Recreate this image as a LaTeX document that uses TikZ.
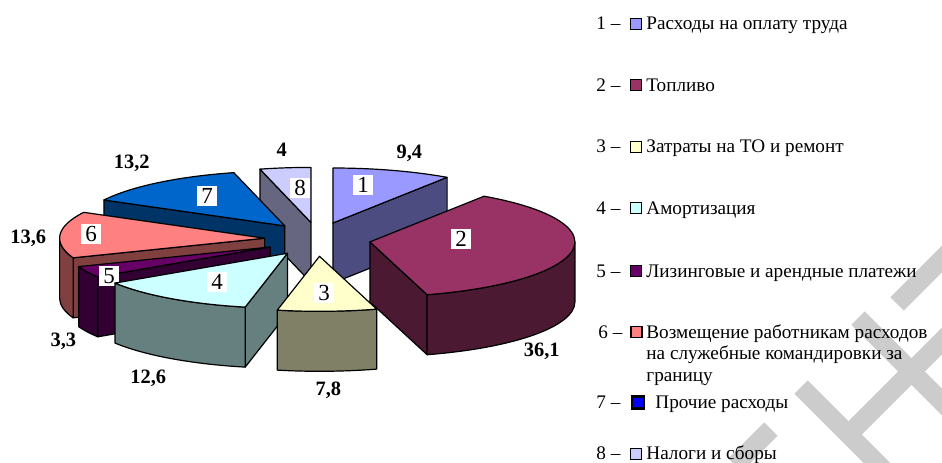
\documentclass[tikz,border=0pt]{standalone}
\usepackage{fontspec}
\setmainfont{Liberation Serif}

\newlength{\du}
\setlength{\du}{0.5pt}

% slice colours: top face and side
\definecolor{top1}{HTML}{9999FF}\definecolor{side1}{HTML}{4C4C80}
\definecolor{top2}{HTML}{993366}\definecolor{side2}{HTML}{4C1933}
\definecolor{top3}{HTML}{FFFFCC}\definecolor{side3}{HTML}{808066}
\definecolor{top4}{HTML}{CCFFFF}\definecolor{side4}{HTML}{668080}
\definecolor{top5}{HTML}{660066}\definecolor{side5}{HTML}{330033}
\definecolor{top6}{HTML}{FF8080}\definecolor{side6}{HTML}{804040}
\definecolor{top7}{HTML}{0066CC}\definecolor{side7}{HTML}{003366}
\definecolor{top8}{HTML}{CCCCFF}\definecolor{side8}{HTML}{666680}
\definecolor{key7}{HTML}{0000FF}
\definecolor{wmgray}{HTML}{CCCCCC}

\tikzset{
  pierad/.style={x radius=205\du, y radius=55\du},
  face/.style={fill=#1, draw=black, line width=1.2\du, line join=round},
  slicenum/.style={fill=white, inner xsep=1.9pt, inner ysep=1.2pt, font=\fontsize{11.5}{12}\selectfont},
  pct/.style={inner sep=0pt, font=\fontsize{10.2}{12}\selectfont\bfseries},
  legnum/.style={anchor=base west, inner sep=0pt, font=\fontsize{9.6}{11}\selectfont},
  legtext/.style={legnum},
  legkey/.style={draw=black, line width=1.2\du, minimum size=11\du, inner sep=0pt, fill=#1},
  wmark/.style={draw=wmgray, line width=19\du}
}

\begin{document}
\begin{tikzpicture}[x=\du, y=\du]
\pgftransformyscale{-1.000000}
\useasboundingbox (0,0) rectangle (942,462);

% watermark
\begin{scope}
\clip (0,0) rectangle (942,462);
\draw[wmark] (897,304) -- (975,226);
\draw[wmark] (852,431) -- (975,308);
\draw[wmark] (801,387) -- (890,476);
\draw[wmark] (858,318) -- (980,440);
\draw[wmark] (771,429) -- (735,465);
\end{scope}

% 8 - taxes
\path[face=side8] (310.9,222.4) -- (259.9,169.1) -- (259.9,229.1) -- (310.9,282.4) -- cycle;
\path[face=top8] (310.9,222.4) -- ++(255.6:{205\du} and {55\du}) arc[pierad, start angle=255.6, end angle=270] -- cycle;
\node[slicenum] (s8) at (300,188) {8};

% 7 - other
\path[face=side7] (284.8,225.9) -- (103.9,200.0) -- (103.9,260.0) -- (284.8,285.9) -- cycle;
\path[face=top7] (284.8,225.9) -- ++(208.08:{205\du} and {55\du}) arc[pierad, start angle=208.08, end angle=255.6] -- cycle;
\node[slicenum] (s7) at (207,196) {7};

% 1 - wages
\path[face=side1] (332.9,223.0) -- (447.1,177.3) -- (447.1,237.3) -- (332.9,283.0) -- cycle;
\path[face=top1] (332.9,223.0) -- ++(-90:{205\du} and {55\du}) arc[pierad, start angle=-90, end angle=-56.16] -- cycle;
\node[slicenum] (s1) at (363,185) {1};

% 6 - travel
\path[face=side6] (264.6,238.2) -- (73.1,257.8) -- (73.1,317.8) -- (264.6,298.2) -- cycle;
\path[face=side6] (73.1,257.8) arc[pierad, start angle=159.12, end angle=180] -- ++(0,60) arc[pierad, start angle=180, end angle=159.12] -- cycle;
\path[face=top6] (264.6,238.2) -- ++(159.12:{205\du} and {55\du}) arc[pierad, start angle=159.12, end angle=208.08] -- cycle;
\node[slicenum] (s6) at (91,234) {6};

% 5 - leasing
\path[face=side5] (270.2,247.0) -- (97.8,276.8) -- (97.8,336.8) -- (270.2,307.0) -- cycle;
\path[face=side5] (97.8,276.8) arc[pierad, start angle=147.24, end angle=159.12] -- ++(0,60) arc[pierad, start angle=159.12, end angle=147.24] -- cycle;
\path[face=top5] (270.2,247.0) -- ++(147.24:{205\du} and {55\du}) arc[pierad, start angle=147.24, end angle=159.12] -- cycle;
\node[slicenum] (s5) at (109,276) {5};

% 4 - depreciation
\path[face=side4] (287.4,253.3) -- (245.2,307.1) -- (245.2,367.1) -- (287.4,313.3) -- cycle;
\path[face=side4] (245.2,307.1) arc[pierad, start angle=101.88, end angle=147.24] -- ++(0,60) arc[pierad, start angle=147.24, end angle=101.88] -- cycle;
\path[face=top4] (287.4,253.3) -- ++(101.88:{205\du} and {55\du}) arc[pierad, start angle=101.88, end angle=147.24] -- cycle;
\node[slicenum] (s4) at (217,282) {4};

% 2 - fuel
\path[face=side2] (369.9,241.9) -- (427.1,294.7) -- (427.1,354.7) -- (369.9,301.9) -- cycle;
\path[face=side2] (574.9,241.9) arc[pierad, start angle=0, end angle=73.8] -- ++(0,60) arc[pierad, start angle=73.8, end angle=0] -- cycle;
\path[face=top2] (369.9,241.9) -- ++(-56.16:{205\du} and {55\du}) arc[pierad, start angle=-56.16, end angle=73.8] -- cycle;
\node[slicenum] (s2) at (461,239) {2};

% 3 - maintenance
\path[face=side3] (376.7,309.1) arc[pierad, start angle=73.8, end angle=101.88] -- ++(0,60) arc[pierad, start angle=101.88, end angle=73.8] -- cycle;
\path[face=top3] (319.5,256.3) -- ++(73.8:{205\du} and {55\du}) arc[pierad, start angle=73.8, end angle=101.88] -- cycle;
\node[slicenum] (s3) at (324,293) {3};

% values
\node[pct] (v1) at (409.3,153.3) {9,4};
\node[pct] (v2) at (541.7,351.7) {36,1};
\node[pct] (v3) at (328.3,390) {7,8};
\node[pct] (v4) at (148.3,378.3) {12,6};
\node[pct] (v5) at (63.3,341.7) {3,3};
\node[pct] (v6) at (28.3,238.3) {13,6};
\node[pct] (v7) at (131.7,163.3) {13,2};
\node[pct] (v8) at (281.7,150) {4};

% legend
\node[legnum] (n1) at (596,29.5) {1 –};
\node[legkey=top1] (k1) at (636,23.8) {};
\node[legtext] (t1) at (646,29.5) {Расходы на оплату труда};
\node[legnum] (n2) at (596,91) {2 –};
\node[legkey=top2] (k2) at (636,85.3) {};
\node[legtext] (t2) at (646,91) {Топливо};
\node[legnum] (n3) at (596,152.5) {3 –};
\node[legkey=top3] (k3) at (636,146.8) {};
\node[legtext] (t3) at (646,152.5) {Затраты на ТО и ремонт};
\node[legnum] (n4) at (596,214) {4 –};
\node[legkey=top4] (k4) at (636,208.3) {};
\node[legtext] (t4) at (646,214) {Амортизация};
\node[legnum] (n5) at (596,277) {5 –};
\node[legkey=top5] (k5) at (636,271.3) {};
\node[legtext] (t5) at (646,277) {Лизинговые и арендные платежи};
\node[legnum] (n6) at (598,338) {6 –};
\node[legkey=top6] (k6) at (636.5,332.3) {};
\node[legtext] (t6a) at (646,338) {Возмещение работникам расходов};
\node[legtext] (t6b) at (646,359.5) {на служебные командировки за};
\node[legtext] (t6c) at (646,381) {границу};
\node[legnum] (n7) at (596,408.5) {7 –};
\node[legkey=key7, line width=2.4\du, minimum size=12\du] (k7) at (638,402.3) {};
\node[legtext] (t7) at (655,408.5) {Прочие расходы};
\node[legnum] (n8) at (596,459.5) {8 –};
\node[legkey=top8] (k8) at (636,453.8) {};
\node[legtext] (t8) at (646,459.5) {Налоги и сборы};
\end{tikzpicture}
\end{document}
